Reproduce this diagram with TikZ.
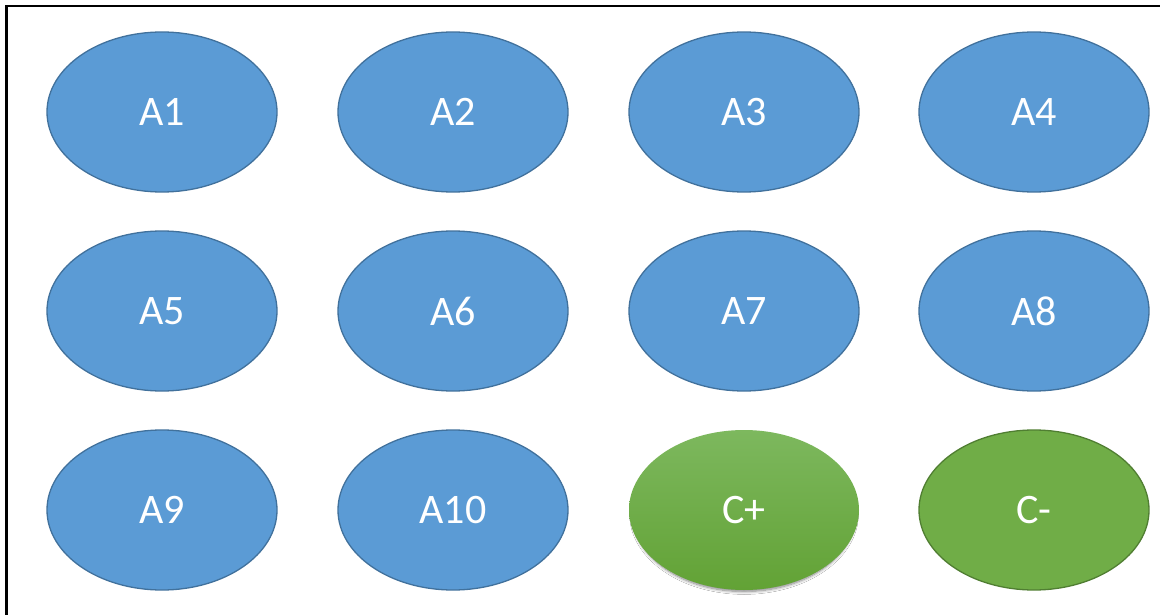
\documentclass[tikz,border=0pt]{standalone}
\usepackage{fontspec}
\setmainfont{Carlito}
\usetikzlibrary{shapes.geometric,shadows.blur}
\definecolor{bluefill}{HTML}{5B9BD5}
\definecolor{blueedge}{HTML}{41719C}
\definecolor{greenfill}{HTML}{70AD47}
\definecolor{greenedge}{HTML}{507E32}
\definecolor{greentop}{HTML}{7DB85E}
\definecolor{greenbot}{HTML}{62A235}
\tikzset{
  oval/.style={ellipse, minimum width=230pt, minimum height=160pt, inner sep=0pt,
    text=white, font=\fontsize{42}{42}\selectfont, line width=1.3pt},
  bluenode/.style={oval, fill=bluefill, draw=blueedge},
  greennode/.style={oval, fill=greenfill, draw=greenedge},
  cplus/.style={oval, top color=greentop, bottom color=greenbot,
    blur shadow={shadow xshift=0pt, shadow yshift=-4pt, shadow scale=0.97, shadow blur radius=3pt, shadow blur steps=8, shadow opacity=50}},
  frame/.style={line width=2.5pt, black}
}
\begin{document}
\begin{tikzpicture}[x=1pt,y=-1pt]
\useasboundingbox (0,0) rectangle (1160,615);
\fill[white] (0,0) rectangle (1160,615);
\coordinate (tl) at (6.5,6);
\coordinate (tr) at (1160,6);
\coordinate (bl) at (6.5,615);
\draw[frame] (tr) -- (tl) -- (bl);
\node[bluenode] (a1) at (162,112) {A1};
\node[bluenode] (a2) at (453,112) {A2};
\node[bluenode] (a3) at (744,112) {A3};
\node[bluenode] (a4) at (1034,112) {A4};
\node[bluenode] (a5) at (162,311) {A5};
\node[bluenode] (a6) at (453,311) {A6};
\node[bluenode] (a7) at (744,311) {A7};
\node[bluenode] (a8) at (1034,311) {A8};
\node[bluenode] (a9) at (162,510) {A9};
\node[bluenode] (a10) at (453,510) {A10};
\node[cplus] (cp) at (744,510) {C+};
\node[greennode] (cm) at (1034,510) {C-};
\end{tikzpicture}
\end{document}
